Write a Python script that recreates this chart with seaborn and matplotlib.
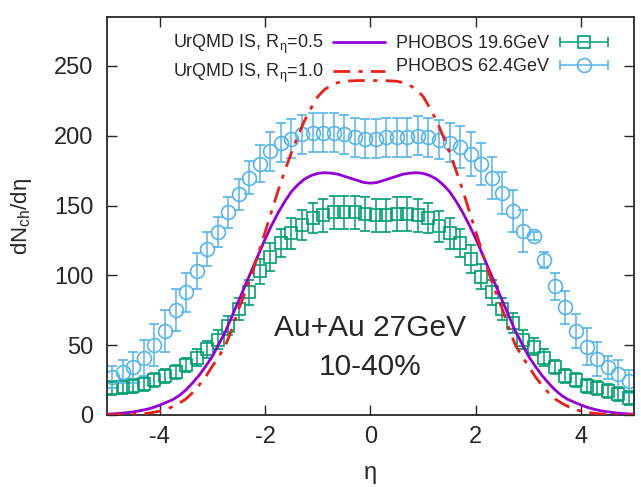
import numpy as np
import pandas as pd
import matplotlib
matplotlib.use("Agg")
import matplotlib.pyplot as plt
from matplotlib.legend_handler import HandlerErrorbar
import seaborn as sns

# PHOBOS data points (eta bin centres)
eta_data = [-4.9, -4.7, -4.5, -4.3, -4.1, -3.9, -3.7, -3.5, -3.3, -3.1,
            -2.9, -2.7, -2.5, -2.3, -2.1, -1.9, -1.7, -1.5, -1.3, -1.1,
            -0.9, -0.7, -0.5, -0.3, -0.1, 0.1, 0.3, 0.5, 0.7, 0.9,
            1.1, 1.3, 1.5, 1.7, 1.9, 2.1, 2.3, 2.5, 2.7, 2.9,
            3.1, 3.3, 3.5, 3.7, 3.9, 4.1, 4.3, 4.5, 4.7, 4.9]

phobos_196 = [19, 20, 21, 22, 25, 28, 31, 36, 41, 47,
              54, 64, 76, 88, 103, 113, 123, 130, 136, 141,
              143, 145, 145, 145, 144, 143, 143, 144, 144, 143,
              141, 135, 130, 123, 112, 99, 88, 76, 66, 54,
              49, 41, 34, 28, 25, 21, 19, 17, 15, 12]
phobos_196_err = [5, 5, 5, 5, 5, 5, 5, 5, 6, 6,
                  7, 7, 8, 9, 9, 10, 10, 11, 11, 11,
                  12, 12, 12, 12, 12, 12, 12, 12, 12, 12,
                  11, 11, 11, 10, 10, 9, 9, 8, 7, 7,
                  6, 6, 5, 5, 5, 5, 5, 5, 5, 5]

phobos_624 = [27, 31, 34, 41, 50, 60, 75, 88, 103, 119,
              131, 145, 158, 170, 180, 189, 195, 198, 201, 202,
              202, 202, 201, 199, 198, 198, 199, 199, 199, 200,
              199, 197, 195, 192, 187, 180, 170, 159, 146, 132,
              128, 111, 92, 77, 60, 49, 40, 34, 29, 24]
phobos_624_err = [8, 8, 11, 13, 15, 15, 15, 14, 13, 12,
                  11, 11, 11, 12, 13, 14, 14, 14, 14, 14,
                  14, 14, 14, 14, 14, 14, 14, 14, 14, 14,
                  14, 14, 14, 15, 16, 15, 15, 15, 15, 15,
                  3, 6, 10, 12, 12, 13, 12, 8, 10, 8]

# UrQMD initial-state curves, read on eta >= 0 (curves are symmetric)
eta_half = [0.0, 0.125, 0.25, 0.375, 0.5, 0.625, 0.75, 0.875, 1.0, 1.125,
            1.25, 1.375, 1.5, 1.625, 1.75, 1.875, 2.0, 2.125, 2.25, 2.375,
            2.5, 2.625, 2.75, 2.875, 3.0, 3.125, 3.25, 3.375, 3.5, 3.625,
            3.75, 3.875, 4.0, 4.125, 4.25, 4.375, 4.5, 4.625, 4.75, 4.875, 5.0]
r05_half = [166, 166.5, 168, 169.5, 171, 172.5, 173.2, 173.5, 173, 171.5,
            169, 165, 160, 153, 145, 136, 126, 115, 104, 93,
            82, 71, 60, 51, 42, 35, 28.5, 23, 18, 14,
            11, 9, 7, 5.3, 4, 3, 2.2, 1.6, 1.1, 0.8, 0.5]
r10_half = [239.5, 239.5, 239.5, 239.3, 239, 238, 236, 233, 228, 220,
            211, 200, 188, 175, 161, 146, 131, 116, 101, 88,
            76, 62, 50, 42, 35, 27.5, 21.5, 16, 11.5, 8.5,
            6, 4, 2.7, 1.8, 1.1, 0.7, 0.4, 0.2, 0.1, 0.05, 0]

eta_model = [-e for e in eta_half[::-1]] + eta_half[1:]
df_model = pd.DataFrame({
    "eta": eta_model,
    "r05": r05_half[::-1] + r05_half[1:],
    "r10": r10_half[::-1] + r10_half[1:],
})

sns.set_style("ticks")
plt.rcParams['font.family'] = ['Liberation Sans', 'DejaVu Sans']
plt.rcParams['mathtext.fontset'] = 'custom'
plt.rcParams['mathtext.rm'] = 'Liberation Sans'
plt.rcParams['mathtext.it'] = 'Liberation Sans'
plt.rcParams['axes.unicode_minus'] = False

fig = plt.figure(figsize=(6.41, 4.87), dpi=100)
ax = fig.add_axes([0.167, 0.148, 0.822, 0.817])

green = '#009e73'
blue = '#56b4e9'
purple = '#9400d3'
red = '#e8201c'
dashdot = (0, (6, 3, 1.5, 3))

ax.errorbar(eta_data, phobos_196, yerr=phobos_196_err, fmt='s', ms=9, mfc='none',
            mec=green, mew=1.2, ecolor=green, elinewidth=1.1, capsize=3.5, capthick=1.1,
            color=green, zorder=2)
ax.errorbar(eta_data, phobos_624, yerr=phobos_624_err, fmt='o', ms=10, mfc='none',
            mec=blue, mew=1.2, ecolor=blue, elinewidth=1.1, capsize=3.5, capthick=1.1,
            color=blue, zorder=2)

sns.lineplot(data=df_model, x="eta", y="r05", ax=ax, color=purple, lw=2, zorder=3)
sns.lineplot(data=df_model, x="eta", y="r10", ax=ax, color=red, lw=2, zorder=3,
             linestyle=dashdot)

# legend handles (gnuplot style: text first, horizontal error bar sample)
h1, = ax.plot([], [], color=purple, lw=2)
h2, = ax.plot([], [], color=red, lw=2, linestyle=dashdot)
h3 = ax.errorbar([np.nan], [np.nan], xerr=[1], fmt='s', ms=9, mfc='none', mec=green,
                 mew=1.2, ecolor=green, elinewidth=1.1, capsize=3.5, color=green)
h4 = ax.errorbar([np.nan], [np.nan], xerr=[1], fmt='o', ms=10, mfc='none', mec=blue,
                 mew=1.2, ecolor=blue, elinewidth=1.1, capsize=3.5, color=blue)
ax.legend([h1, h2, h3, h4],
          [r'UrQMD IS, R$_{\mathrm{η}}$=0.5', r'UrQMD IS, R$_{\mathrm{η}}$=1.0',
           'PHOBOS 19.6GeV', 'PHOBOS 62.4GeV'],
          ncol=2, markerfirst=False, frameon=False, loc='upper center',
          bbox_to_anchor=(0.54, 1.0), fontsize=13, handlelength=2.9,
          columnspacing=0.6, handletextpad=0.5, labelspacing=0.3,
          handler_map={type(h3): HandlerErrorbar(xerr_size=1.35)})

ax.text(0, 62, 'Au+Au 27GeV', ha='center', va='center', fontsize=21.5)
ax.text(0, 34, '10-40%', ha='center', va='center', fontsize=21.5)

ax.set_xlim(-5, 5)
ax.set_ylim(0, 285)
ax.set_xticks([-4, -2, 0, 2, 4])
ax.set_yticks([0, 50, 100, 150, 200, 250])
ax.tick_params(direction='in', top=True, right=True, length=7, width=1,
               labelsize=17, pad=8)
ax.tick_params(axis='y', pad=10)
for s in ax.spines.values():
    s.set_linewidth(1.3)
ax.set_xlabel('η', fontsize=17, labelpad=10)
ax.set_ylabel(r'dN$_{\mathrm{ch}}$/dη', fontsize=16, labelpad=14)

fig.savefig('out.png', dpi=100)
